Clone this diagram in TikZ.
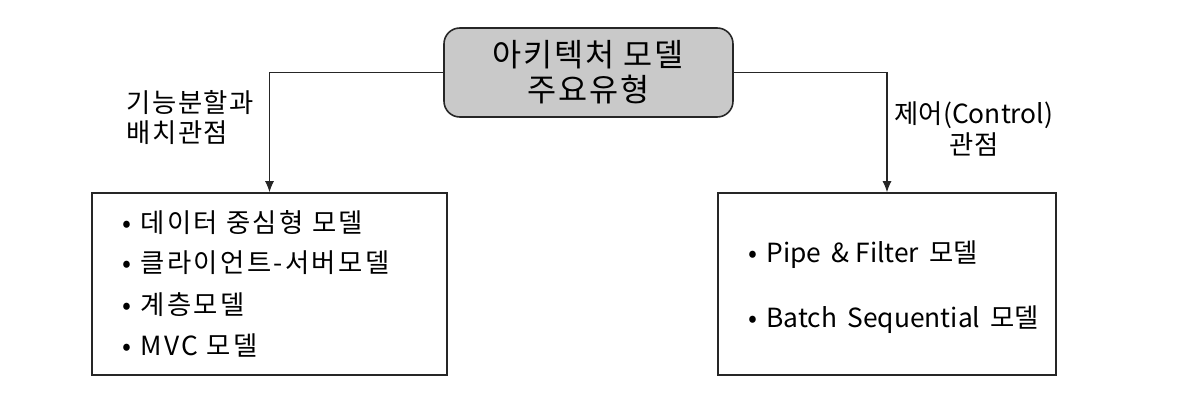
\documentclass[tikz,border=0pt]{standalone}
\usepackage{fontspec}
\setmainfont{Noto Sans CJK KR}
\newfontfamily\widekr[LetterSpace=6]{Noto Sans CJK KR}
\newfontfamily\widerkr[LetterSpace=9]{Noto Sans CJK KR}
\usetikzlibrary{arrows.meta,positioning}
\tikzset{
    mainbox/.style={draw=black!85, line width=0.9pt, rounded corners=9pt, fill=gray!42, minimum width=5.78cm, minimum height=1.78cm, align=center, font=\widekr\fontsize{18}{20}\selectfont},
    listbox/.style={draw=black!85, line width=0.9pt, minimum height=3.64cm},
    entry/.style={anchor=west, inner sep=0pt, font=\fontsize{15}{17}\selectfont},
    krentry/.style={entry, font=\widerkr\fontsize{15}{17}\selectfont},
    viewlbl/.style={inner sep=0pt, font=\widekr\fontsize{15}{17.6}\selectfont},
    link/.style={draw=black!85, line width=0.6pt, -{Latex[length=2.2mm,width=1.8mm]}}
}
\begin{document}
\begin{tikzpicture}
    \useasboundingbox (0,0) rectangle (23.9,-8.06);
    \node [mainbox] (top) at (11.77,-1.45) {아키텍처 모델\\주요유형};
    \node [listbox, minimum width=7.1cm] (left) at (5.39,-5.68) {};
    \node [listbox, minimum width=6.76cm] (right) at (17.74,-5.68) {};
    \node [krentry] (l1) at (2.44,-4.46) {•\hspace{0.35em}데이터 중심형 모델};
    \node [krentry] (l2) at (2.44,-5.26) {•\hspace{0.35em}클라이언트-서버모델};
    \node [krentry] (l3) at (2.44,-6.10) {•\hspace{0.35em}계층모델};
    \node [krentry] (l4) at (2.44,-6.90) {•\hspace{0.35em}MVC 모델};
    \node [entry] (r1) at (14.96,-5.10) {•\hspace{0.35em}Pipe\, \& Filter\, 모델};
    \node [entry] (r2) at (14.96,-6.40) {•\hspace{0.35em}Batch\, Sequential\, 모델};
    \node [viewlbl, anchor=west, align=left] (lview) at (2.52,-2.35) {기능분할과\\배치관점};
    \node [viewlbl, font=\fontsize{15}{17.6}\selectfont, align=center] (rview) at (19.48,-2.58) {제어(Control)\\관점};
    \draw [link] (top.west) -| (left.north);
    \draw [link] (top.east) -| (right.north);
\end{tikzpicture}
\end{document}
